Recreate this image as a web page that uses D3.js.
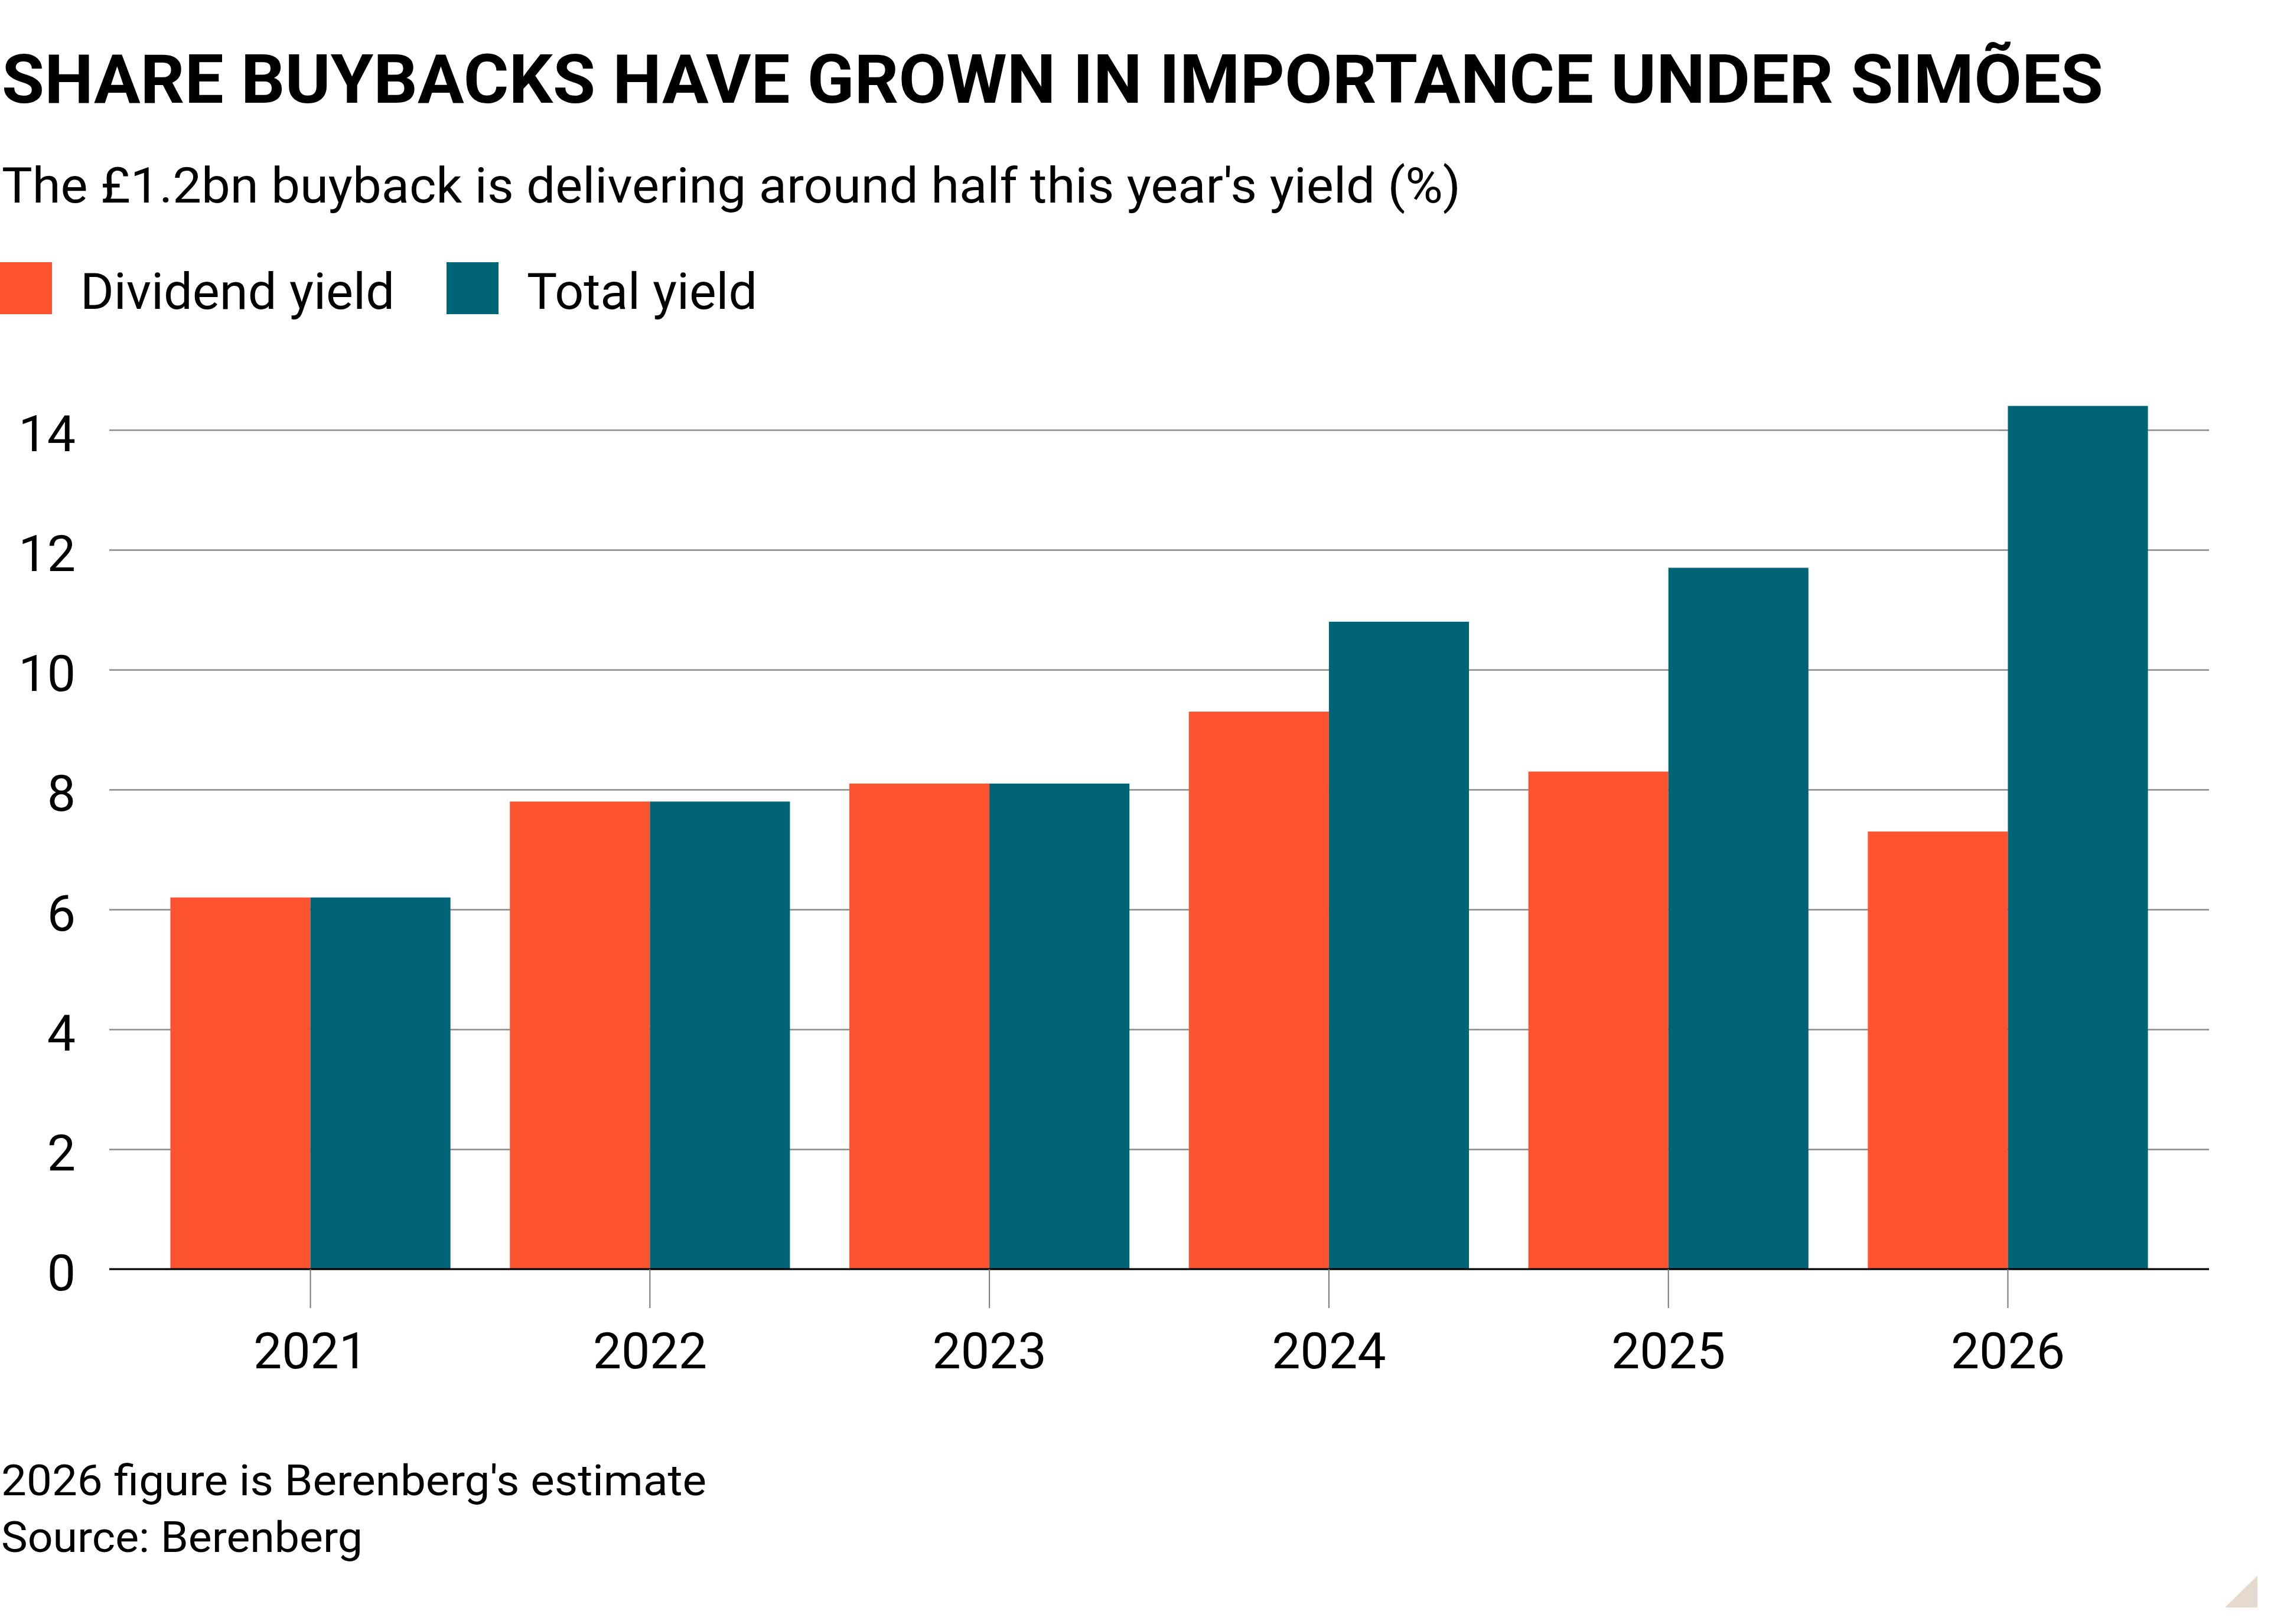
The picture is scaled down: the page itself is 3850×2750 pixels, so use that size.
<!DOCTYPE html>
<html>
<head>
<meta charset="utf-8">
<script src="https://cdn.jsdelivr.net/npm/d3@7"></script>
<style>
  body { margin: 0; background: #fff; }
  text { font-family: Roboto, "Noto Sans", sans-serif; fill: #000; }
</style>
</head>
<body>
<div id="chart"></div>
<script>
// chart data
const years = ['2021', '2022', '2023', '2024', '2025', '2026'];
const seriesNames = ['Dividend yield', 'Total yield'];
const dividendYield = [6.2, 7.8, 8.1, 9.3, 8.3, 7.3];
const totalYield = [6.2, 7.8, 8.1, 10.8, 11.7, 14.4];
const yTicks = [0, 2, 4, 6, 8, 10, 12, 14];

const colors = ['#fe5330', '#006477'];

const W = 3850, H = 2750;
const plotLeft = 185, plotRight = 3740, plotTop = 728, plotBottom = 2149;

const svg = d3.select('#chart').append('svg')
    .attr('width', W)
    .attr('height', H);

svg.append('rect').attr('width', W).attr('height', H).attr('fill', '#fff');

// stretch a text to the width it has in the original
function fitWidth(sel, w) {
    const n = sel.node();
    const len = n.getComputedTextLength();
    if (Math.abs(len - w) > 4) {
        sel.attr('textLength', w).attr('lengthAdjust', 'spacingAndGlyphs');
    }
}

// titles
svg.append('text')
    .attr('x', 3).attr('y', 174)
    .style('font-size', '115px').style('font-weight', 700)
    .text('SHARE BUYBACKS HAVE GROWN IN IMPORTANCE UNDER SIMÕES')
    .call(fitWidth, 3558);

svg.append('text')
    .attr('x', 3).attr('y', 343)
    .style('font-size', '83px')
    .text("The £1.2bn buyback is delivering around half this year's yield (%)")
    .call(fitWidth, 2470);

// legend
const legendX = [0, 756];
const legendW = [532, 387];
const legend = svg.selectAll('.legend')
    .data(seriesNames)
    .enter().append('g')
    .attr('class', 'legend')
    .attr('transform', (d, i) => `translate(${legendX[i]},444)`);

legend.append('rect')
    .attr('width', 88).attr('height', 88)
    .attr('fill', (d, i) => colors[i]);

legend.append('text')
    .attr('x', 136).attr('y', 79)
    .style('font-size', '86px')
    .text(d => d)
    .each(function(d, i) { fitWidth(d3.select(this), legendW[i]); });

// scales
const x0 = d3.scaleBand()
    .domain(years)
    .range([plotLeft, plotRight])
    .paddingInner(0.175)
    .paddingOuter(0.18);

const x1 = d3.scaleBand()
    .domain(seriesNames)
    .range([0, x0.bandwidth()]);

const y = d3.scaleLinear()
    .domain([0, 14])
    .range([plotBottom, plotTop]);

// y axis with gridlines
const yAxis = svg.append('g')
    .attr('transform', `translate(${plotLeft},0)`)
    .call(d3.axisLeft(y).tickValues(yTicks).tickSize(-(plotRight - plotLeft)).tickPadding(57));

yAxis.select('.domain').remove();
yAxis.selectAll('.tick line')
    .attr('stroke', '#8a8a8a')
    .attr('stroke-width', 2.5);
yAxis.selectAll('.tick text')
    .attr('dy', '0.41em')
    .style('font-size', '86px')
    .style('font-family', 'Roboto, sans-serif')
    .attr('fill', '#000');

// bars
const rows = years.map((yr, i) => ({ year: yr, values: [dividendYield[i], totalYield[i]] }));

const groups = svg.selectAll('.group')
    .data(rows)
    .enter().append('g')
    .attr('class', 'group')
    .attr('transform', d => `translate(${x0(d.year)},0)`);

groups.selectAll('rect')
    .data(d => d.values.map((v, i) => ({ key: seriesNames[i], value: v, i: i })))
    .enter().append('rect')
    .attr('x', d => x1(d.key))
    .attr('y', d => y(d.value))
    .attr('width', x1.bandwidth())
    .attr('height', d => y(0) - y(d.value))
    .attr('fill', d => colors[d.i]);

// x axis
const xAxis = svg.append('g')
    .attr('transform', `translate(0,${plotBottom})`)
    .call(d3.axisBottom(x0).tickSize(66).tickPadding(41));

xAxis.select('.domain')
    .attr('d', `M${plotLeft},0H${plotRight}`)
    .attr('stroke', '#000')
    .attr('stroke-width', 3);
xAxis.selectAll('.tick line')
    .attr('stroke', '#777')
    .attr('stroke-width', 2);
xAxis.selectAll('.tick text')
    .style('font-size', '86px')
    .style('font-family', 'Roboto, sans-serif')
    .attr('fill', '#000');

// notes
svg.append('text')
    .attr('x', 2).attr('y', 2532)
    .style('font-size', '73px')
    .text("2026 figure is Berenberg's estimate")
    .call(fitWidth, 1194);

svg.append('text')
    .attr('x', 2).attr('y', 2628)
    .style('font-size', '73px')
    .text('Source: Berenberg')
    .call(fitWidth, 612);

// corner mark
svg.append('path')
    .attr('d', 'M3822,2668L3822,2722L3767,2722Z')
    .attr('fill', '#e6dace');
</script>
</body>
</html>
